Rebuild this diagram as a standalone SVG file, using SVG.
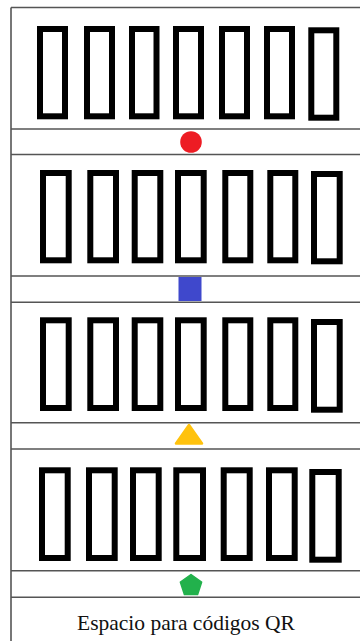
<svg xmlns="http://www.w3.org/2000/svg" width="360" height="641" viewBox="0 0 360 641">
<style>
.ln{stroke:#555;stroke-width:1.6;fill:none}
.bin{fill:#fff;stroke:#000;stroke-width:6}
.lbl{font-family:"Liberation Serif","Times New Roman",serif;font-size:21.5px;fill:#111}
</style>
<rect width="360" height="641" fill="#fff"/>
<g id="frame" class="ln">
<line x1="11" y1="7.5" x2="362" y2="7.5"/>
<line x1="11" y1="7.5" x2="11" y2="641"/>
<line x1="11" y1="129" x2="362" y2="129"/>
<line x1="11" y1="154.5" x2="362" y2="154.5"/>
<line x1="11" y1="276" x2="362" y2="276"/>
<line x1="11" y1="302.3" x2="362" y2="302.3"/>
<line x1="11" y1="422.7" x2="362" y2="422.7"/>
<line x1="11" y1="449" x2="362" y2="449"/>
<line x1="11" y1="570.7" x2="362" y2="570.7"/>
<line x1="11" y1="597.3" x2="362" y2="597.3"/>
</g>
<g id="row1">
<rect class="bin" x="40" y="29" width="25" height="87.3"/>
<rect class="bin" x="87" y="29" width="25" height="87.3"/>
<rect class="bin" x="132" y="29" width="24.5" height="87.3"/>
<rect class="bin" x="176" y="29" width="25" height="87.3"/>
<rect class="bin" x="222" y="29" width="25" height="87.3"/>
<rect class="bin" x="267" y="29" width="25" height="87.3"/>
<rect class="bin" x="311.3" y="30.3" width="25" height="87.4"/>
</g>
<g id="row2">
<rect class="bin" x="43" y="173" width="25.7" height="87.3"/>
<rect class="bin" x="90.3" y="173" width="25.7" height="87.3"/>
<rect class="bin" x="134.7" y="173" width="25.6" height="87.3"/>
<rect class="bin" x="178" y="173" width="25.7" height="87.3"/>
<rect class="bin" x="225.3" y="173" width="25" height="87.3"/>
<rect class="bin" x="270.3" y="173" width="25" height="87.3"/>
<rect class="bin" x="314" y="174" width="25.7" height="87.3"/>
</g>
<g id="row3">
<rect class="bin" x="43" y="320.3" width="25.7" height="87.7"/>
<rect class="bin" x="90.3" y="320.3" width="25.7" height="87.7"/>
<rect class="bin" x="134.7" y="320.3" width="25.6" height="87.7"/>
<rect class="bin" x="178" y="320.3" width="25.7" height="87.7"/>
<rect class="bin" x="225.3" y="320.3" width="25" height="87.7"/>
<rect class="bin" x="270.3" y="320.3" width="25" height="87.7"/>
<rect class="bin" x="314" y="322" width="25.7" height="87.7"/>
</g>
<g id="row4">
<rect class="bin" x="42" y="470.3" width="25.7" height="87.7"/>
<rect class="bin" x="89" y="470.3" width="25.7" height="87.7"/>
<rect class="bin" x="133" y="470.3" width="25.7" height="87.7"/>
<rect class="bin" x="176.3" y="470.3" width="26.7" height="87.7"/>
<rect class="bin" x="223.7" y="470.3" width="26" height="87.7"/>
<rect class="bin" x="269" y="470.3" width="25.7" height="87.7"/>
<rect class="bin" x="312.3" y="472" width="26.4" height="87.7"/>
</g>
<g id="marker-circle"><circle cx="191" cy="142" r="10.8" fill="#ed1c24"/></g>
<g id="marker-square"><rect x="178.5" y="277" width="23" height="24" fill="#3f48cc"/></g>
<g id="marker-triangle"><path d="M189 425 L202 443.5 L176 443.5 Z" fill="#ffc20e" stroke="#ffc20e" stroke-width="2.5" stroke-linejoin="round"/></g>
<g id="marker-pentagon"><path d="M191 574.5 L201.6 582.2 L197.6 594.6 L184.4 594.6 L180.4 582.2 Z" fill="#22b14c" stroke="#22b14c" stroke-width="1.5" stroke-linejoin="round"/></g>
<g id="footer"><text class="lbl" x="186" y="630" text-anchor="middle">Espacio para códigos QR</text></g>
</svg>
